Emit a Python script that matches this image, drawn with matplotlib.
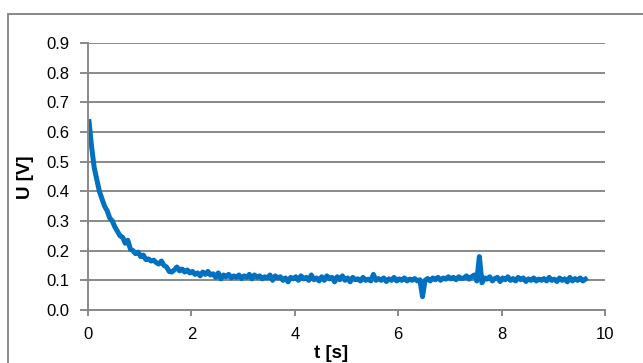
import numpy as np
import matplotlib
matplotlib.use("Agg")
import matplotlib.pyplot as plt
from matplotlib.patches import Rectangle

# Measured voltage samples (V), recorded every 0.05 s starting at 0.02 s
t0 = 0.02
dt = 0.05
voltage = [
    0.635, 0.55, 0.48, 0.44, 0.40, 0.375, 0.35, 0.335, 0.31, 0.30,
    0.28, 0.265, 0.25, 0.245, 0.225, 0.235, 0.205, 0.20, 0.19, 0.195,
    0.18, 0.185, 0.17, 0.172, 0.165, 0.168, 0.16, 0.155, 0.165, 0.15,
    0.145, 0.13, 0.128, 0.135, 0.145, 0.132, 0.138, 0.128, 0.135, 0.125,
    0.13, 0.12, 0.125, 0.115, 0.128, 0.12, 0.13, 0.118, 0.122, 0.11,
    0.125, 0.105, 0.118, 0.112, 0.12, 0.108, 0.115, 0.11, 0.118, 0.106,
    0.115, 0.11, 0.12, 0.105, 0.118, 0.11, 0.115, 0.105, 0.112, 0.108,
    0.118, 0.10, 0.115, 0.108, 0.112, 0.10, 0.108, 0.095, 0.11, 0.105,
    0.112, 0.10, 0.115, 0.105, 0.11, 0.10, 0.118, 0.102, 0.108, 0.098,
    0.112, 0.10, 0.115, 0.105, 0.11, 0.095, 0.112, 0.102, 0.115, 0.10,
    0.108, 0.095, 0.11, 0.102, 0.105, 0.098, 0.11, 0.10, 0.104, 0.098,
    0.12, 0.10, 0.106, 0.10, 0.108, 0.096, 0.105, 0.10, 0.11, 0.098,
    0.105, 0.10, 0.108, 0.098, 0.104, 0.10, 0.106, 0.098, 0.102, 0.045,
    0.10, 0.106, 0.098, 0.108, 0.102, 0.11, 0.10, 0.108, 0.104, 0.112,
    0.105, 0.11, 0.102, 0.112, 0.106, 0.108, 0.115, 0.104, 0.112, 0.118,
    0.098, 0.18, 0.092, 0.108, 0.104, 0.112, 0.098, 0.106, 0.11, 0.096,
    0.108, 0.102, 0.112, 0.10, 0.106, 0.098, 0.11, 0.102, 0.108, 0.096,
    0.105, 0.10, 0.108, 0.098, 0.104, 0.10, 0.106, 0.098, 0.11, 0.10,
    0.104, 0.096, 0.108, 0.10, 0.105, 0.095, 0.11, 0.098, 0.106, 0.10,
    0.108, 0.098, 0.104,
]
time = t0 + dt * np.arange(len(voltage))

x_ticks = [0, 2, 4, 6, 8, 10]
y_ticks = [0.0, 0.1, 0.2, 0.3, 0.4, 0.5, 0.6, 0.7, 0.8, 0.9]

plt.rcParams["font.family"] = ["Liberation Sans", "DejaVu Sans"]

W, H = 643, 363
fig = plt.figure(figsize=(W / 100, H / 100), dpi=100)
fig.patch.set_facecolor("white")

grey = "#898989"

# chart frame
fig.patches.append(Rectangle((8 / W, -0.2), 1.2, 1 - 13.5 / H + 0.2,
                             transform=fig.transFigure, fill=False,
                             edgecolor=grey, linewidth=1.4))

ax = fig.add_axes([88 / W, 1 - 310 / H, (605 - 88) / W, (310 - 43) / H])
ax.plot(time, voltage, color="#0070C0", linewidth=3.6, solid_joinstyle="round")

ax.set_xlim(0, 10)
ax.set_ylim(0, 0.9)
ax.set_xticks(x_ticks)
ax.set_xticklabels([str(v) for v in x_ticks])
ax.set_yticks(y_ticks)
ax.set_yticklabels([f"{v:.1f}" for v in y_ticks])

ax.grid(axis="y", color=grey, linewidth=1.4)
ax.set_axisbelow(True)
for side in ("top", "right"):
    ax.spines[side].set_visible(False)
for side in ("left", "bottom"):
    ax.spines[side].set_color(grey)
    ax.spines[side].set_linewidth(1.4)

ax.tick_params(axis="y", length=5.5, width=1.4, color=grey, pad=8,
               labelsize=12, labelcolor="black")
ax.tick_params(axis="x", length=4.5, width=1.4, color=grey, pad=8,
               labelsize=12, labelcolor="black")

fig.text(25 / W, 1 - 177 / H, "U [V]", rotation=90, ha="center", va="center",
         fontsize=13.5, fontweight="bold")
fig.text(331 / W, 1 - 353 / H, "t [s]", ha="center", va="center",
         fontsize=13.5, fontweight="bold")

fig.savefig("out.png", dpi=100)
